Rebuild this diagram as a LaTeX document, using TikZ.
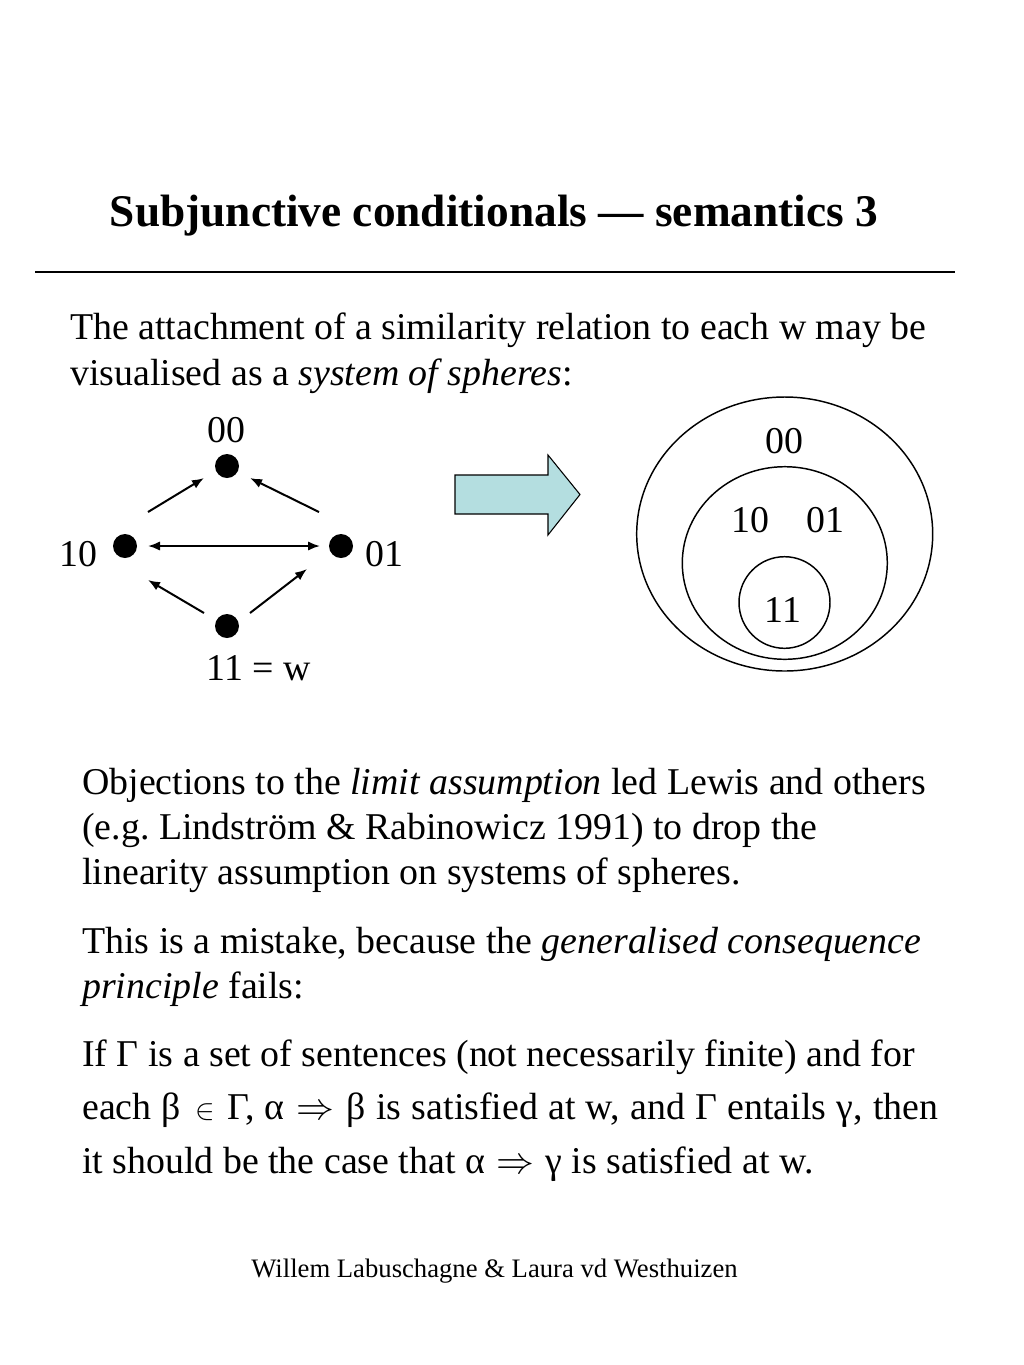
\RequirePackage{fix-cm}
\documentclass[tikz,border=0pt]{standalone}
\usepackage{fontspec}
\setmainfont{Liberation Serif}
\usetikzlibrary{arrows.meta}
\definecolor{arrowfill}{RGB}{180,222,224}
\frenchspacing
\newcommand{\bodyfont}{\fontsize{28.4}{34}\selectfont}
\newcommand{\inn}{\hspace{3pt}{\fontsize{22}{34}\selectfont$\in$}\hspace{2pt}}
\newcommand{\impl}{\hspace{1.5pt}$\Rightarrow$\hspace{1.5pt}}
\begin{document}
\begin{tikzpicture}[x=0.75pt,y=-0.75pt,
  txt/.style={inner sep=0pt,anchor=base west,font=\bodyfont},
  lab/.style={inner sep=0pt,anchor=base,font=\bodyfont},
  dot/.style={circle,fill=black,inner sep=0pt,minimum size=24*0.75pt},
  arr/.style={line width=1.5pt,-{Latex[length=9pt,width=7pt]}},
  darr/.style={line width=1.5pt,{Latex[length=9pt,width=7pt]}-{Latex[length=9pt,width=7pt]}},
  sphere/.style={line width=1.1pt}]
\useasboundingbox (0,0) rectangle (1024,1365);
% title
\node[inner sep=0pt,anchor=base,font=\fontsize{34}{40}\selectfont\bfseries] (title) at (494,226) {Subjunctive conditionals — semantics 3};
\coordinate (ruleL) at (35,272);
\coordinate (ruleR) at (955,272);
\draw[line width=1.1pt] (ruleL) -- (ruleR);
% intro
\node[txt] (t1) at (70,339) {The attachment of a similarity relation to each w may be};
\node[txt] (t2) at (70,385) {visualised as a \textit{system of spheres}:};
% graph
\node[dot] (n00) at (227,466) {};
\node[dot] (n10) at (125,546) {};
\node[dot] (n01) at (341,546) {};
\node[dot] (n11) at (227,626) {};
\node[lab] (l00) at (226,442) {00};
\node[lab] (l10) at (78,566) {10};
\node[lab] (l01) at (384,566) {01};
\node[lab] (l11) at (259,680) {11 = w};
\draw[arr] ([shift={(23,-34)}]n10.center) -- ([shift={(-23,12)}]n00.center);
\draw[arr] ([shift={(-22,-34)}]n01.center) -- ([shift={(23,12)}]n00.center);
\draw[arr] ([shift={(-23,-13)}]n11.center) -- ([shift={(23,34)}]n10.center);
\draw[arr] ([shift={(23,-13)}]n11.center) -- ([shift={(-34,23)}]n01.center);
\draw[darr] ([shift={(23,0)}]n10.center) -- ([shift={(-21,0)}]n01.center);
% block arrow
\draw[fill=arrowfill,line width=0.8pt] (455,475) -- (548,475) -- (548,455) -- (580,494.5) -- (548,535) -- (548,514) -- (455,514) -- cycle;
% spheres
\draw[sphere] (784.7,534) ellipse [x radius=148, y radius=137];
\draw[sphere] (784.8,563) ellipse [x radius=102.5, y radius=96.3];
\draw[sphere] (784.5,602.5) ellipse [x radius=45.5, y radius=45.8];
\node[lab] (s00) at (784,453) {00};
\node[lab] (s10) at (750,532) {10};
\node[lab] (s01) at (825,532) {01};
\node[lab] (s11) at (783,622) {11};
% paragraphs
\node[txt] (p1) at (82,794) {Objections to the \textit{limit assumption} led Lewis and others};
\node[txt] (p2) at (82,839) {(e.g. Lindström \& Rabinowicz 1991) to drop the};
\node[txt] (p3) at (82,884) {linearity assumption on systems of spheres.};
\node[txt] (q1) at (82,953) {This is a mistake, because the \textit{generalised consequence}};
\node[txt] (q2) at (82,998) {\textit{principle} fails:};
\node[txt] (r1) at (82,1066) {If Γ is a set of sentences (not necessarily finite) and for};
\node[txt] (r2) at (82,1119) {\spaceskip=0.27em each β \inn{} Γ, α \impl{} β is satisfied at w, and Γ entails γ, then};
\node[txt] (r3) at (82,1173) {it should be the case that α \impl{} γ is satisfied at w.};
% footer
\node[inner sep=0pt,anchor=base,font=\fontsize{20}{24}\selectfont] (foot) at (494.5,1277) {Willem Labuschagne \& Laura vd Westhuizen};
\end{tikzpicture}
\end{document}
